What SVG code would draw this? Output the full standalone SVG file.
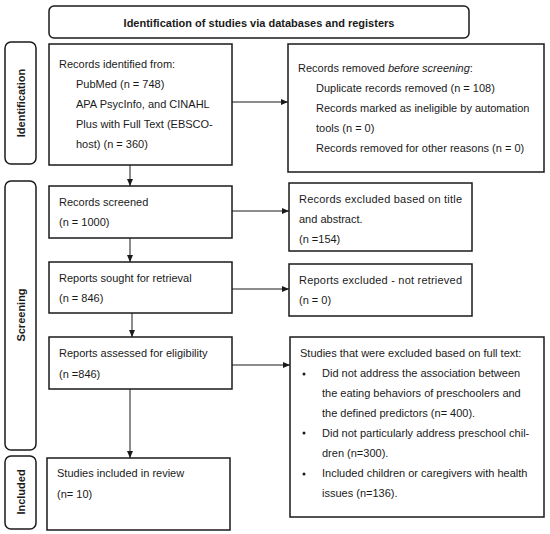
<svg xmlns="http://www.w3.org/2000/svg" width="550" height="534" viewBox="0 0 550 534">
<style>
text{font-family:"Liberation Sans",Arial,sans-serif;font-size:11px;fill:#1a1a1a}
.b{font-weight:bold}
.box{fill:#fff;stroke:#1a1a1a;stroke-width:1.5}
.side{fill:#fff;stroke:#1a1a1a;stroke-width:1.5}
.c{stroke:#1a1a1a;stroke-width:1;fill:none;marker-end:url(#ah)}
</style>
<defs>
<marker id="ah" markerWidth="7" markerHeight="6" refX="7" refY="3" orient="auto" markerUnits="userSpaceOnUse">
<path d="M0,0 L7,3 L0,6 Z" fill="#1a1a1a"/>
</marker>
</defs>
<rect width="550" height="534" fill="#fff"/>
<g id="title">
<rect class="side" x="49" y="6" width="420" height="32" rx="5"/>
<text class="b" x="259" y="27" text-anchor="middle">Identification of studies via databases and registers</text>
</g>
<g id="lab-identification">
<rect class="side" x="5" y="42" width="31" height="122" rx="6"/>
<text class="b" transform="translate(25,103) rotate(-90)" text-anchor="middle">Identification</text>
</g>
<g id="lab-screening">
<rect class="side" x="5" y="181" width="31" height="269" rx="6"/>
<text class="b" transform="translate(25,315) rotate(-90)" text-anchor="middle">Screening</text>
</g>
<g id="lab-included">
<rect class="side" x="5" y="456" width="31" height="73" rx="6"/>
<text class="b" transform="translate(25,492) rotate(-90)" text-anchor="middle">Included</text>
</g>
<g id="connectors">
<line class="c" x1="232" y1="102" x2="288" y2="102"/>
<line class="c" x1="130" y1="165" x2="130" y2="186"/>
<line class="c" x1="232" y1="211" x2="289" y2="211"/>
<line class="c" x1="130" y1="238" x2="130" y2="262"/>
<line class="c" x1="232" y1="289" x2="289" y2="289"/>
<line class="c" x1="132" y1="313" x2="132" y2="337"/>
<line class="c" x1="232" y1="365" x2="290" y2="365"/>
<line class="c" x1="130" y1="389" x2="130" y2="458"/>
</g>
<g id="identified">
<rect class="box" x="49" y="44" width="183" height="121"/>
<text x="59" y="68">Records identified from:</text>
<text x="76" y="88">PubMed (n = 748)</text>
<text x="76" y="108">APA PsycInfo, and CINAHL</text>
<text x="76" y="128">Plus with Full Text (EBSCO-</text>
<text x="76" y="148">host) (n = 360)</text>
</g>
<g id="removed">
<rect class="box" x="288" y="44" width="256" height="128"/>
<text x="298" y="72">Records removed <tspan font-style="italic">before screening</tspan>:</text>
<text x="316" y="92">Duplicate records removed (n = 108)</text>
<text x="316" y="112">Records marked as ineligible by automation</text>
<text x="316" y="132">tools (n = 0)</text>
<text x="316" y="152">Records removed for other reasons (n = 0)</text>
</g>
<g id="screened">
<rect class="box" x="49" y="186" width="183" height="52"/>
<text x="59" y="206">Records screened</text>
<text x="59" y="226">(n = 1000)</text>
</g>
<g id="excluded-ta">
<rect class="box" x="289" y="183" width="183" height="68"/>
<text x="299" y="203" textLength="163" lengthAdjust="spacing">Records excluded based on title</text>
<text x="299" y="223">and abstract.</text>
<text x="299" y="243">(n =154)</text>
</g>
<g id="sought">
<rect class="box" x="49" y="262" width="183" height="51"/>
<text x="59" y="282">Reports sought for retrieval</text>
<text x="59" y="302">(n = 846)</text>
</g>
<g id="not-retrieved">
<rect class="box" x="289" y="264" width="183" height="52"/>
<text x="299" y="284" textLength="163" lengthAdjust="spacing">Reports excluded - not retrieved</text>
<text x="299" y="304">(n = 0)</text>
</g>
<g id="assessed">
<rect class="box" x="49" y="337" width="183" height="52"/>
<text x="59" y="357">Reports assessed for eligibility</text>
<text x="59" y="378">(n =846)</text>
</g>
<g id="excluded-ft">
<rect class="box" x="290" y="337" width="254" height="180"/>
<text x="300" y="357">Studies that were excluded based on full text:</text>
<circle cx="304" cy="374" r="1.5" fill="#1a1a1a"/>
<text x="322" y="377">Did not address the association between</text>
<text x="322" y="397">the eating behaviors of preschoolers and</text>
<text x="322" y="417">the defined predictors (n= 400).</text>
<circle cx="304" cy="433" r="1.5" fill="#1a1a1a"/>
<text x="322" y="437">Did not particularly address preschool chil-</text>
<text x="322" y="457">dren (n=300).</text>
<circle cx="304" cy="474" r="1.5" fill="#1a1a1a"/>
<text x="322" y="477">Included children or caregivers with health</text>
<text x="322" y="497">issues (n=136).</text>
</g>
<g id="included">
<rect class="box" x="47" y="458" width="183" height="72"/>
<text x="57" y="477">Studies included in review</text>
<text x="57" y="498">(n= 10)</text>
</g>
</svg>
